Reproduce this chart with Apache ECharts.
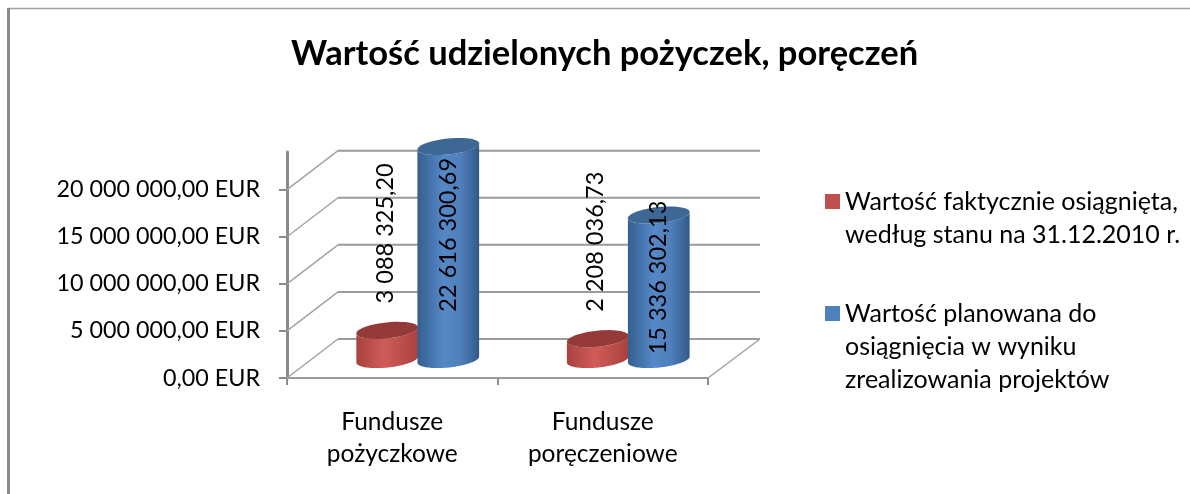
<!DOCTYPE html>
<html>
<head>
<meta charset="utf-8">
<style>html,body{margin:0;padding:0;background:#fff}#c{width:1190px;height:494px}</style>
<script src="https://cdn.jsdelivr.net/npm/echarts@6/dist/echarts.min.js"></script>
</head>
<body>
<div id="c"></div>
<script>
var titleText = 'Wartość udzielonych pożyczek, poręczeń';
var categories = ['Fundusze\npożyczkowe', 'Fundusze\nporęczeniowe'];
var seriesActualName = 'Wartość faktycznie osiągnięta,\nwedług stanu na 31.12.2010 r.';
var seriesPlannedName = 'Wartość planowana do\nosiągnięcia w wyniku\nzrealizowania projektów';
var actualValues = [3088325.20, 2208036.73];
var plannedValues = [22616300.69, 15336302.13];
var yTicks = [0, 5000000, 10000000, 15000000, 20000000];

var FONT = 'Lato, "Open Sans", sans-serif';
var DEPTH_X = 51, DEPTH_Y = 39;
var TILT = -6 * Math.PI / 180;

function fmt(v) {
  var s = v.toFixed(2).split('.');
  return s[0].replace(/\B(?=(\d{3})+$)/g, ' ') + ',' + s[1];
}
function ellipsePt(cx, cy, rx, ry, t) {
  var c = Math.cos(t), s = Math.sin(t);
  return [cx + rx * c * Math.cos(TILT) - ry * s * Math.sin(TILT),
          cy + rx * c * Math.sin(TILT) + ry * s * Math.cos(TILT)];
}
function arc(cx, cy, rx, ry, a0, a1) {
  var pts = [];
  for (var i = 0; i <= 48; i++) pts.push(ellipsePt(cx, cy, rx, ry, a0 + (a1 - a0) * i / 48));
  return pts;
}
function grad(stops) {
  return {type: 'linear', x: 0, y: 0, x2: 1, y2: 0,
    colorStops: stops.map(function (c) { return {offset: c[0], color: c[1]}; })};
}
function cylinderItem(side, topColor, stops, labelMode) {
  return function (params, api) {
    var idx = api.value(0), val = api.value(1);
    var band = api.size([1, 0])[0];
    var base = api.coord([idx, 0]);
    var top = api.coord([idx, val]);
    var w = band * 0.29;
    var cx = base[0] + DEPTH_X / 2 + side * w / 2;
    var by = base[1] - DEPTH_Y * 0.475;
    var ty = top[1] - DEPTH_Y * 0.475;
    var rx = w / 2 + 0.5, ry = 8;
    var body = arc(cx, ty, rx, ry, Math.PI, 0).concat(arc(cx, by, rx, ry, 0, Math.PI));
    var labelY = labelMode === 'above' ? ty - 27 : by - (by - ty) * 0.623 + 8;
    return {type: 'group', children: [
      {type: 'polygon', shape: {points: body}, style: {fill: grad(stops)}},
      {type: 'polygon', shape: {points: arc(cx, ty, rx, ry, 0, Math.PI * 2)}, style: {fill: topColor}},
      {type: 'text', x: cx + (labelMode === 'above' ? -2 : 0), y: labelY, rotation: Math.PI / 2,
        style: {text: fmt(val), x: 0, y: 0, fill: '#000', font: '23.5px ' + FONT,
          align: labelMode === 'above' ? 'left' : 'center', verticalAlign: 'middle'}}
    ]};
  };
}
function wallItem(params, api) {
  var v = api.value(1);
  var p = api.coord([0, v]);
  var x0 = params.coordSys.x, w = params.coordSys.width;
  var line = {stroke: '#9b9b9b', lineWidth: 2, fill: null};
  var kids = [
    {type: 'line', shape: {x1: x0, y1: p[1], x2: x0 + DEPTH_X, y2: p[1] - DEPTH_Y}, style: {stroke: '#a3a3a3', lineWidth: 1.5}},
    {type: 'line', shape: {x1: x0 + DEPTH_X, y1: p[1] - DEPTH_Y, x2: x0 + w + DEPTH_X + 1, y2: p[1] - DEPTH_Y}, style: line}
  ];
  if (v === 0) {
    kids.push({type: 'line', shape: {x1: x0 + w, y1: p[1], x2: x0 + w + DEPTH_X + 1, y2: p[1] - DEPTH_Y}, style: {stroke: '#a3a3a3', lineWidth: 1.5}});
  }
  return {type: 'group', children: kids};
}

var chart = echarts.init(document.getElementById('c'), null, {renderer: 'canvas'});
chart.setOption({
  animation: false,
  backgroundColor: '#fff',
  title: {text: titleText, left: 291, top: 36, padding: 0, itemGap: 0,
    textStyle: {fontFamily: FONT, fontSize: 34.5, fontWeight: 'bold', color: '#000'}},
  grid: {left: 287, top: 152, width: 421, height: 226},
  legend: [
    {data: [seriesActualName], left: 825, top: 185, padding: 0, selectedMode: false,
      icon: 'path://M0,0H15V15H0Z M0,48L0.01,48', itemWidth: 15, itemHeight: 48,
      textStyle: {fontFamily: FONT, fontSize: 25, color: '#000', lineHeight: 33}},
    {data: [seriesPlannedName], left: 825, top: 297, padding: 0, selectedMode: false,
      icon: 'path://M0,0H15V15H0Z M0,81L0.01,81', itemWidth: 15, itemHeight: 81,
      textStyle: {fontFamily: FONT, fontSize: 25, color: '#000', lineHeight: 33}}
  ],
  xAxis: {type: 'category', data: categories,
    axisLine: {lineStyle: {color: '#9b9b9b', width: 2}},
    axisTick: {show: true, length: 7, lineStyle: {color: '#8c8c8c', width: 2}},
    axisLabel: {color: '#000', fontFamily: FONT, fontSize: 24.5, lineHeight: 32, margin: 28, interval: 0}
  },
  yAxis: {type: 'value', min: 0, max: 24000000, interval: 5000000,
    axisLine: {show: true, onZero: false, lineStyle: {color: '#8a8a8a', width: 3}},
    axisTick: {show: true, length: 8, customValues: yTicks, lineStyle: {color: '#8a8a8a', width: 2}},
    splitLine: {show: false},
    axisLabel: {color: '#000', fontFamily: FONT, fontSize: 23.3, margin: 27, padding: [4, 0, 0, 0], customValues: yTicks,
      formatter: function (v) { return fmt(v) + ' EUR'; }}
  },
  series: [
    {type: 'custom', name: 'walls', silent: true, z: 1, renderItem: wallItem,
      data: yTicks.map(function (v) { return [0, v]; })},
    {type: 'custom', name: seriesActualName, z: 2, itemStyle: {color: '#c0504d'},
      renderItem: cylinderItem(-1, '#943b39', [[0, '#a8413f'], [0.45, '#d05c58'], [1, '#a8413f']], 'above'),
      data: actualValues.map(function (v, i) { return [i, v]; })},
    {type: 'custom', name: seriesPlannedName, z: 3, itemStyle: {color: '#4f81bd'},
      renderItem: cylinderItem(1, '#3d6795', [[0, '#33608f'], [0.42, '#5688c8'], [0.7, '#4f7fba'], [1, '#33598a']], 'inside'),
      data: plannedValues.map(function (v, i) { return [i, v]; })}
  ],
  graphic: [
    {type: 'line', silent: true, shape: {x1: 7, y1: 8.5, x2: 1190, y2: 8.5}, style: {stroke: '#a0a0a0', lineWidth: 1.5}},
    {type: 'line', silent: true, shape: {x1: 8.5, y1: 8, x2: 8.5, y2: 494}, style: {stroke: '#8a8a8a', lineWidth: 3}}
  ]
});
</script>
</body>
</html>
